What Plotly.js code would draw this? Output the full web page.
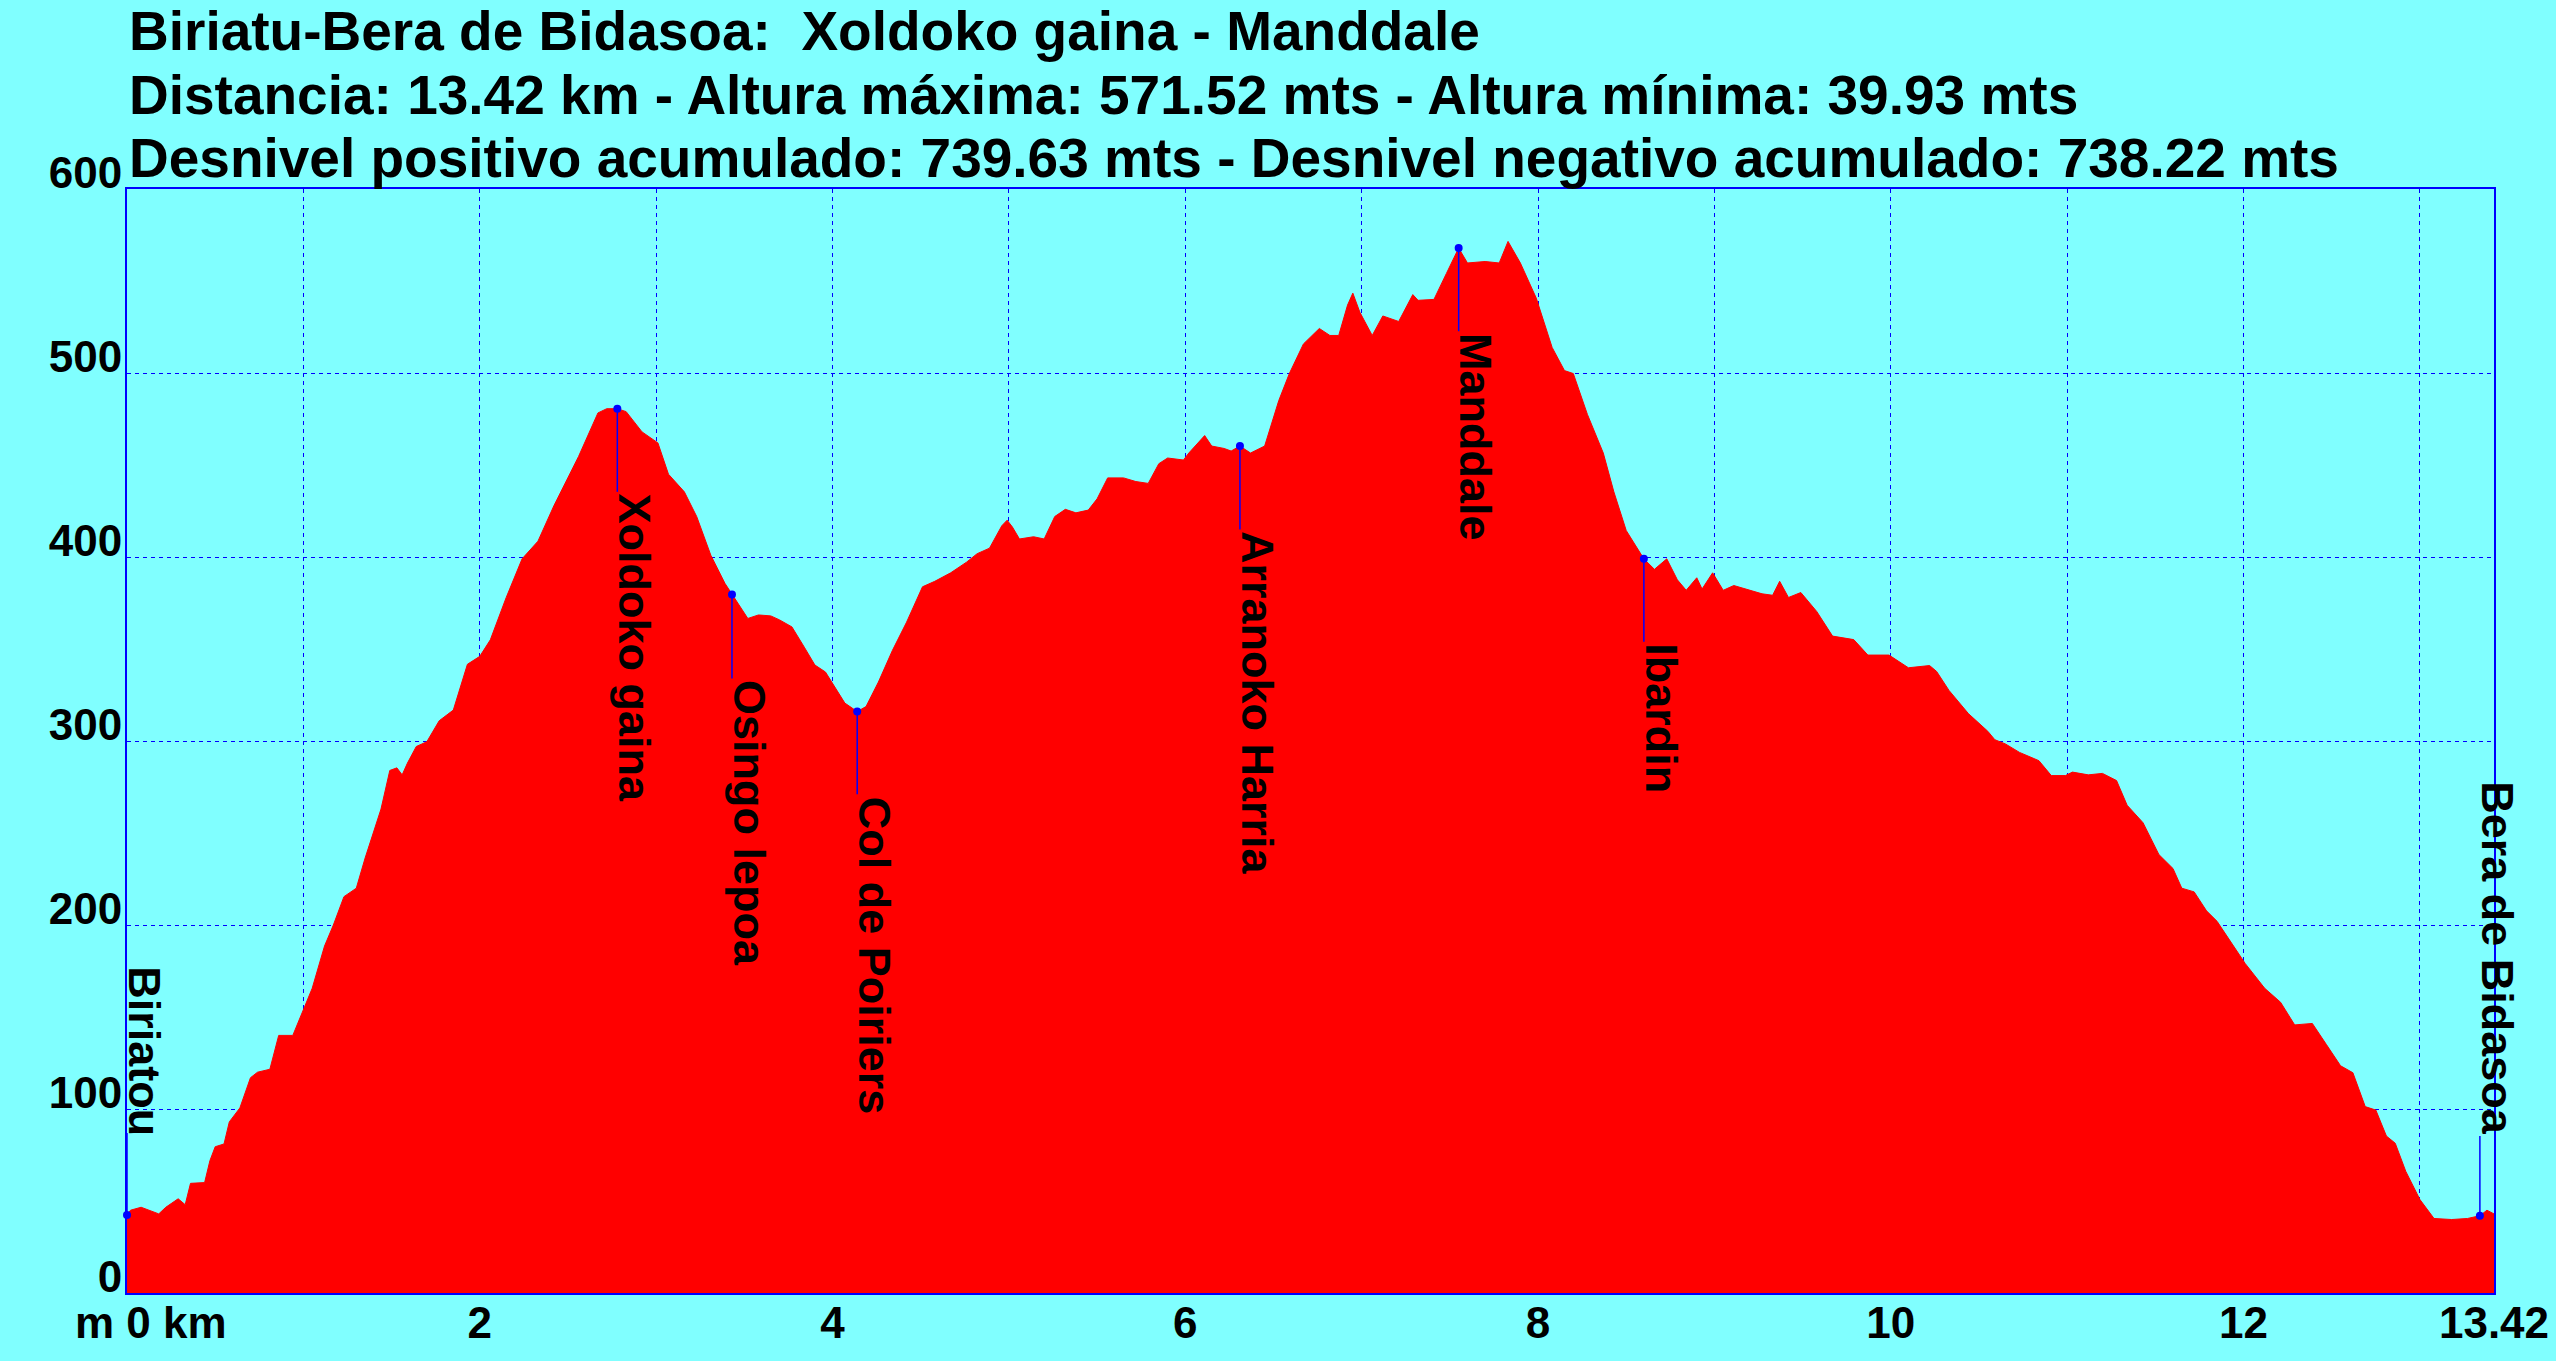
<!DOCTYPE html>
<html>
<head>
<meta charset="utf-8">
<script src="https://cdn.plot.ly/plotly-3.0.1.min.js"></script>
<style>
html,body{margin:0;padding:0;background:#80ffff;}
#chart{width:2556px;height:1361px;}
</style>
</head>
<body>
<div id="chart"></div>
<script>
// ---- Data ----
const titleLines = [
  "Biriatu-Bera de Bidasoa:  Xoldoko gaina - Manddale",
  "Distancia: 13.42 km - Altura máxima: 571.52 mts - Altura mínima: 39.93 mts",
  "Desnivel positivo acumulado: 739.63 mts - Desnivel negativo acumulado: 738.22 mts"
];

const distanceKm = [
  0.00,0.02,0.08,0.13,0.18,0.22,0.29,0.33,0.36,0.44,0.47,0.50,0.55,0.58,0.64,0.70,0.74,0.81,0.86,0.94,
  1.00,1.05,1.12,1.17,1.23,1.30,1.35,1.44,1.49,1.53,1.56,1.59,1.64,1.70,1.77,1.85,1.93,2.00,2.06,2.15,
  2.24,2.33,2.42,2.56,2.67,2.72,2.78,2.83,2.92,3.01,3.07,3.16,3.23,3.31,3.39,3.43,3.48,3.52,3.58,3.65,
  3.70,3.77,3.84,3.90,3.96,4.02,4.07,4.14,4.19,4.26,4.34,4.42,4.51,4.58,4.67,4.76,4.82,4.89,4.96,4.99,
  5.02,5.06,5.14,5.20,5.26,5.32,5.38,5.45,5.50,5.56,5.65,5.72,5.79,5.85,5.90,5.99,6.02,6.11,6.15,6.22,
  6.26,6.31,6.37,6.45,6.53,6.59,6.67,6.76,6.82,6.87,6.92,6.95,6.99,7.06,7.12,7.21,7.29,7.32,7.41,7.48,
  7.55,7.60,7.70,7.78,7.83,7.90,7.99,8.08,8.15,8.20,8.28,8.37,8.43,8.50,8.60,8.66,8.73,8.79,8.84,8.90,
  8.93,8.99,9.05,9.11,9.18,9.27,9.33,9.37,9.42,9.49,9.58,9.67,9.79,9.87,9.99,10.10,10.22,10.26,10.33,10.44,
  10.55,10.59,10.65,10.73,10.84,10.91,10.99,11.03,11.12,11.20,11.28,11.34,11.43,11.52,11.60,11.65,11.72,11.79,11.85,11.97,
  12.01,12.12,12.21,12.29,12.39,12.47,12.55,12.62,12.69,12.75,12.81,12.86,12.92,13.00,13.08,13.18,13.27,13.34,13.38,13.42
];

const elevationM = [
  42.4,45,46.6,45,43,46.6,51.2,48,59.6,60,71.9,79.5,81,93,100.6,117,120,121.6,140,140,
  154,165.6,188.6,200,215.4,220,236.4,263,284,285.4,281.6,288,297,299.6,311,316.8,341.7,346,355,378,
  399,408.6,427.8,454.6,478.3,480.6,480.6,479,468,462,445,435.4,422,401,385.7,379.6,372,366.6,368.5,368,
  365.8,362,351,341.3,337.5,328.3,320.6,316,318.7,332,349.3,364.6,383.8,386.8,391.4,397.2,401.8,404.8,417,420,
  416.3,409.8,411,409.8,422,425.9,424,425.5,431.6,443,443,441,440,450.7,453.8,452.7,456.5,466,460.3,459,
  457.6,460.3,456.5,460.3,485,499.7,515.8,524.2,520.4,520.4,536.9,543.4,533,520.4,531,528,542.6,539.5,540,554,
  567.9,559.8,560.6,559.8,571.52,559.8,540.7,513.9,501.3,499.7,477.5,456.5,435.4,414.4,399,393.3,399,387.6,381.9,388.7,
  382.6,391.4,381.9,384.5,382.6,380,379.2,386.8,378,380.7,370.4,357,355.1,346.7,346.7,339.8,341,337.8,327.5,314.9,
  305.3,300.7,298.4,293.8,289.3,281.2,281.2,283.1,281.6,282.4,278.5,265.1,255.6,238.3,230.7,220,218,207.7,202,184.8,
  179,165.6,158,145.7,146.5,135,123.5,119.7,101.3,99.4,85.3,81.4,66.1,50.8,40.5,39.93,40.5,42,45,43
];

const waypointNames = ["Biriatou","Xoldoko gaina","Osingo lepoa","Col de Poiriers","Arranoko Harria","Manddale","Ibardin","Bera de Bidasoa"];
const waypointKm    = [0.00, 2.78, 3.43, 4.14, 6.31, 7.55, 8.60, 13.34];
const waypointElev  = [42.4, 480.6, 379.6, 316.0, 460.3, 567.9, 399.0, 42.0];

const yTickVals = [0,100,200,300,400,500,600];
const xTickVals = [0,1,2,3,4,5,6,7,8,9,10,11,12,13,13.42];
const xTickText = ["","","2","","4","","6","","8","","10","","12","","13.42"];
const xOriginLabel = "m 0 km";

// ---- Label placement (layout, in axis units) ----
const labelTextTop = [179, 435.4, 334, 271, 415, 522.7, 354, 279];
const leaderEnd    = [87, 435.4, 334, 271, 415, 522.7, 354, 85.3];

// ---- Build traces ----
const FONT = "Liberation Sans, Arial, Helvetica, sans-serif";
const profile = {
  type: "scatter", mode: "lines",
  x: distanceKm, y: elevationM,
  fill: "tozeroy", fillcolor: "#ff0000",
  line: {color: "#ff0000", width: 1},
  hoverinfo: "skip", showlegend: false
};

const lx = [], ly = [];
waypointKm.forEach((k, i) => { lx.push(k, k, null); ly.push(waypointElev[i], leaderEnd[i], null); });
const leaders = {
  type: "scatter", mode: "lines", x: lx, y: ly,
  line: {color: "#0000ff", width: 1.5}, hoverinfo: "skip", showlegend: false
};
const markers = {
  type: "scatter", mode: "markers", x: waypointKm, y: waypointElev,
  marker: {color: "#0000ff", size: 8}, cliponaxis: false,
  hoverinfo: "skip", showlegend: false
};

const annotations = [];
const titleY = [1.1427, 1.0847, 1.0285];
titleLines.forEach((t, i) => annotations.push({
  xref: "paper", yref: "paper", x: 0, y: titleY[i],
  xanchor: "left", yanchor: "middle", showarrow: false, text: t,
  font: {family: FONT, size: 55, color: "#000", weight: "bold"}
}));
waypointNames.forEach((n, i) => annotations.push({
  xref: "x", yref: "y", x: waypointKm[i], y: labelTextTop[i],
  xanchor: "left", yanchor: "top", xshift: -10, textangle: 90,
  showarrow: false, text: n,
  font: {family: FONT, size: 45, color: "#000", weight: "bold"}
}));
annotations.push({
  xref: "x", yref: "paper", x: 0, y: 0, xshift: 24, yshift: -3,
  xanchor: "center", yanchor: "top", showarrow: false, text: xOriginLabel,
  font: {family: FONT, size: 44, color: "#000", weight: "bold"}
});

const layout = {
  width: 2556, height: 1361,
  margin: {l: 127, r: 62, t: 189, b: 68, pad: 0},
  paper_bgcolor: "#80ffff", plot_bgcolor: "#80ffff",
  showlegend: false,
  xaxis: {
    range: [0, 13.42], tickmode: "array", tickvals: xTickVals, ticktext: xTickText,
    showgrid: true, gridcolor: "#0000ff", gridwidth: 1, griddash: "4px,4px",
    showline: true, linecolor: "#0000ff", linewidth: 2, mirror: true,
    zeroline: false, ticks: "", automargin: false, ticklabelstandoff: -10,
    tickfont: {family: FONT, size: 44, color: "#000", weight: "bold"}
  },
  yaxis: {
    range: [0, 600], tickmode: "array", tickvals: yTickVals,
    showgrid: true, gridcolor: "#0000ff", gridwidth: 1, griddash: "4px,4px",
    showline: true, linecolor: "#0000ff", linewidth: 2, mirror: true,
    zeroline: false, ticks: "", automargin: false, ticklabelshift: -16, ticklabelstandoff: -6,
    tickfont: {family: FONT, size: 44, color: "#000", weight: "bold"}
  },
  annotations: annotations
};

Plotly.newPlot("chart", [profile, leaders, markers], layout, {staticPlot: true, displayModeBar: false});
</script>
</body>
</html>
